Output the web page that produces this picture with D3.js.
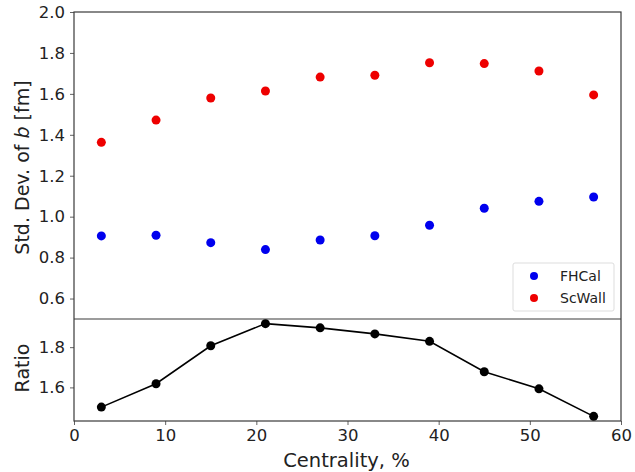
<!DOCTYPE html>
<html>
<head>
<meta charset="utf-8">
<script src="https://cdn.jsdelivr.net/npm/d3@7"></script>
<style>
  body { margin: 0; background: #fff; }
  svg { font-family: "DejaVu Sans", sans-serif; }
</style>
</head>
<body>
<script>
// centrality bin centres, %
const centrality = [3, 9, 15, 21, 27, 33, 39, 45, 51, 57];
const fhcal = [0.906, 0.909, 0.873, 0.839, 0.886, 0.907, 0.958, 1.041, 1.075, 1.096];
const scwall = [1.363, 1.472, 1.580, 1.614, 1.682, 1.691, 1.752, 1.748, 1.712, 1.595];
const ratio = [1.502, 1.618, 1.807, 1.917, 1.896, 1.866, 1.829, 1.678, 1.593, 1.456];

const xTicks = [0, 10, 20, 30, 40, 50, 60];
const topTicks = [0.6, 0.8, 1.0, 1.2, 1.4, 1.6, 1.8, 2.0];
const bottomTicks = [1.6, 1.8];

const W = 635, H = 472;
const mLeft = 74, mRight = 621, mTop = 12, mMid = 319, mBottom = 421;
const spine = "#3a3a3a";

const svg = d3.select("body").append("svg")
    .attr("width", W)
    .attr("height", H)
    .attr("viewBox", [0, 0, W, H]);

const x = d3.scaleLinear().domain([0, 60]).range([mLeft, mRight]);
const yTop = d3.scaleLinear().domain([0.5, 2.0]).range([mMid, mTop]);
const yBot = d3.scaleLinear().domain([1.433, 1.94]).range([mBottom, mMid]);

function styleAxis(g) {
    g.select(".domain").remove();
    g.selectAll(".tick line").attr("stroke", spine).attr("stroke-width", 0.8);
    g.selectAll(".tick text").attr("fill", "#222").attr("font-size", 16.5)
        .attr("font-family", "DejaVu Sans, sans-serif");
}

svg.append("g")
    .attr("transform", `translate(${mLeft},0)`)
    .call(d3.axisLeft(yTop).tickValues(topTicks).tickFormat(d3.format(".1f")).tickSize(4).tickPadding(5))
    .call(styleAxis);

svg.append("g")
    .attr("transform", `translate(${mLeft},0)`)
    .call(d3.axisLeft(yBot).tickValues(bottomTicks).tickFormat(d3.format(".1f")).tickSize(4).tickPadding(5))
    .call(styleAxis);

svg.append("g")
    .attr("transform", `translate(0,${mBottom})`)
    .call(d3.axisBottom(x).tickValues(xTicks).tickSize(4).tickPadding(4))
    .call(styleAxis);

// frames
svg.append("rect")
    .attr("x", mLeft).attr("y", mTop)
    .attr("width", mRight - mLeft).attr("height", mBottom - mTop)
    .attr("fill", "none").attr("stroke", spine).attr("stroke-width", 1.2);
svg.append("line")
    .attr("x1", mLeft).attr("x2", mRight).attr("y1", mMid).attr("y2", mMid)
    .attr("stroke", spine).attr("stroke-width", 1.2);

// top panel points
svg.append("g").selectAll("circle")
    .data(centrality.map((c, i) => [c, fhcal[i]]))
    .join("circle")
    .attr("cx", d => x(d[0])).attr("cy", d => yTop(d[1]))
    .attr("r", 4.5).attr("fill", "#0000ee");

svg.append("g").selectAll("circle")
    .data(centrality.map((c, i) => [c, scwall[i]]))
    .join("circle")
    .attr("cx", d => x(d[0])).attr("cy", d => yTop(d[1]))
    .attr("r", 4.5).attr("fill", "#ee0000");

// ratio panel
const ratioData = centrality.map((c, i) => [c, ratio[i]]);
svg.append("path")
    .datum(ratioData)
    .attr("fill", "none").attr("stroke", "#000").attr("stroke-width", 1.6)
    .attr("d", d3.line().x(d => x(d[0])).y(d => yBot(d[1])));
svg.append("g").selectAll("circle")
    .data(ratioData)
    .join("circle")
    .attr("cx", d => x(d[0])).attr("cy", d => yBot(d[1]))
    .attr("r", 4.5).attr("fill", "#000");

// legend
const legend = svg.append("g");
legend.append("rect")
    .attr("x", 513).attr("y", 263).attr("width", 101).attr("height", 48)
    .attr("rx", 2).attr("fill", "#fff").attr("stroke", "#ddd");
[["FHCal", "#0000ee"], ["ScWall", "#ee0000"]].forEach(([name, col], i) => {
    const yy = 276 + i * 22;
    legend.append("circle").attr("cx", 534).attr("cy", yy).attr("r", 4).attr("fill", col);
    legend.append("text").attr("x", 560).attr("y", yy + 5)
        .attr("font-size", 14).attr("fill", "#222").text(name);
});

// axis labels
const yl = svg.append("text")
    .attr("transform", `translate(29,${(mTop + mMid) / 2 + 2}) rotate(-90)`)
    .attr("text-anchor", "middle").attr("font-size", 19).attr("fill", "#222");
yl.append("tspan").text("Std. Dev. of ");
yl.append("tspan").attr("font-style", "italic").text("b");
yl.append("tspan").text(" [fm]");

svg.append("text")
    .attr("transform", `translate(29,${(mMid + mBottom) / 2 - 2}) rotate(-90)`)
    .attr("text-anchor", "middle").attr("font-size", 19).attr("fill", "#222")
    .text("Ratio");

svg.append("text")
    .attr("x", (mLeft + mRight) / 2 - 1).attr("y", 467)
    .attr("text-anchor", "middle").attr("font-size", 19.5).attr("fill", "#222")
    .text("Centrality, %");
</script>
</body>
</html>
